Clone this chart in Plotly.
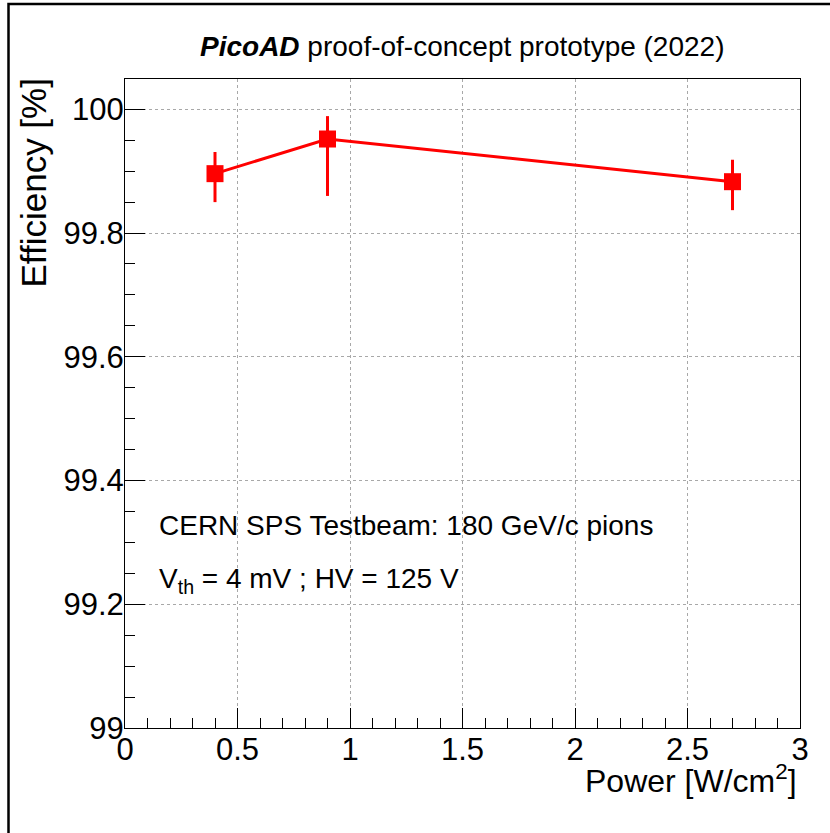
import plotly.graph_objects as go

# Data
power = [0.4, 0.9, 2.7]
efficiency = [99.896, 99.952, 99.883]
err_up = [0.035, 0.037, 0.0355]
err_down = [0.046, 0.092, 0.046]

y_tickvals = [99.0, 99.2, 99.4, 99.6, 99.8, 100.0]
y_ticktext = ["99", "99.2", "99.4", "99.6", "99.8", "100"]
x_tickvals = [0, 0.5, 1, 1.5, 2, 2.5, 3]
x_ticktext = ["0", "0.5", "1", "1.5", "2", "2.5", "3"]

FONT = "Liberation Sans, Arial, Helvetica, sans-serif"

fig = go.Figure()
fig.add_trace(go.Scatter(
    x=power, y=efficiency,
    mode="lines+markers",
    line=dict(color="#ff0000", width=3),
    marker=dict(symbol="square", size=17, color="#ff0000"),
    error_y=dict(type="data", symmetric=False, array=err_up, arrayminus=err_down,
                 color="#ff0000", thickness=3, width=0),
    showlegend=False,
))

axis_common = dict(
    showline=True, linecolor="black", linewidth=1, mirror=True,
    ticks="inside", tickcolor="black", tickwidth=1, ticklen=20,
    showgrid=True, gridcolor="#a8a8a8", gridwidth=1, griddash="dot",
    zeroline=False,
    tickfont=dict(family=FONT, size=31, color="black"),
)

fig.update_xaxes(range=[0, 3], tickvals=x_tickvals, ticktext=x_ticktext,
                 ticklabelstandoff=-6,
                 minor=dict(ticks="inside", ticklen=10, dtick=0.1, tickcolor="black", showgrid=False),
                 **axis_common)
fig.update_yaxes(range=[99.0, 100.049], tickvals=y_tickvals, ticktext=y_ticktext,
                 ticklabelstandoff=-6,
                 minor=dict(ticks="inside", ticklen=10, dtick=0.05, tickcolor="black", showgrid=False),
                 **axis_common)

W, H = 830, 833
L, R, T, B = 125, 30, 79, 105
pw, ph = W - L - R, H - T - B

def px(x):
    return (x - L) / pw

def py(y):
    return (H - B - y) / ph

annotations = [
    dict(text="<b><i>PicoAD</i></b> proof-of-concept prototype (2022)",
         x=0.5, y=py(47), xref="paper", yref="paper", xanchor="center", yanchor="middle",
         showarrow=False, font=dict(family=FONT, size=28, color="black")),
    dict(text="Efficiency [%]", textangle=-90,
         x=px(33), y=py(77), xref="paper", yref="paper", xanchor="center", yanchor="top",
         showarrow=False, font=dict(family=FONT, size=35, color="black")),
    dict(text="Power [W/cm<sup>2</sup>]",
         x=px(799), y=py(779), xref="paper", yref="paper", xanchor="right", yanchor="middle",
         showarrow=False, font=dict(family=FONT, size=32, color="black")),
    dict(text="CERN SPS Testbeam: 180 GeV/c pions",
         x=px(157), y=py(525), xref="paper", yref="paper", xanchor="left", yanchor="middle",
         showarrow=False, font=dict(family=FONT, size=28, color="black")),
    dict(text="V<sub>th</sub> = 4 mV ; HV = 125 V",
         x=px(157), y=py(580), xref="paper", yref="paper", xanchor="left", yanchor="middle",
         showarrow=False, font=dict(family=FONT, size=28, color="black")),
]

shapes = [
    dict(type="rect", xref="paper", yref="paper",
         x0=px(8.5), x1=px(860), y0=py(860), y1=py(4),
         line=dict(color="black", width=2.5), fillcolor="rgba(0,0,0,0)", layer="above"),
]

fig.update_layout(
    width=W, height=H,
    margin=dict(l=L, r=R, t=T, b=B, pad=0),
    paper_bgcolor="white", plot_bgcolor="white",
    font=dict(family=FONT, color="black"),
    annotations=annotations,
    shapes=shapes,
)

fig.write_html("out.html",
               config={"displayModeBar": False},
               post_script="document.body.style.margin='0';document.body.style.overflow='hidden';")
